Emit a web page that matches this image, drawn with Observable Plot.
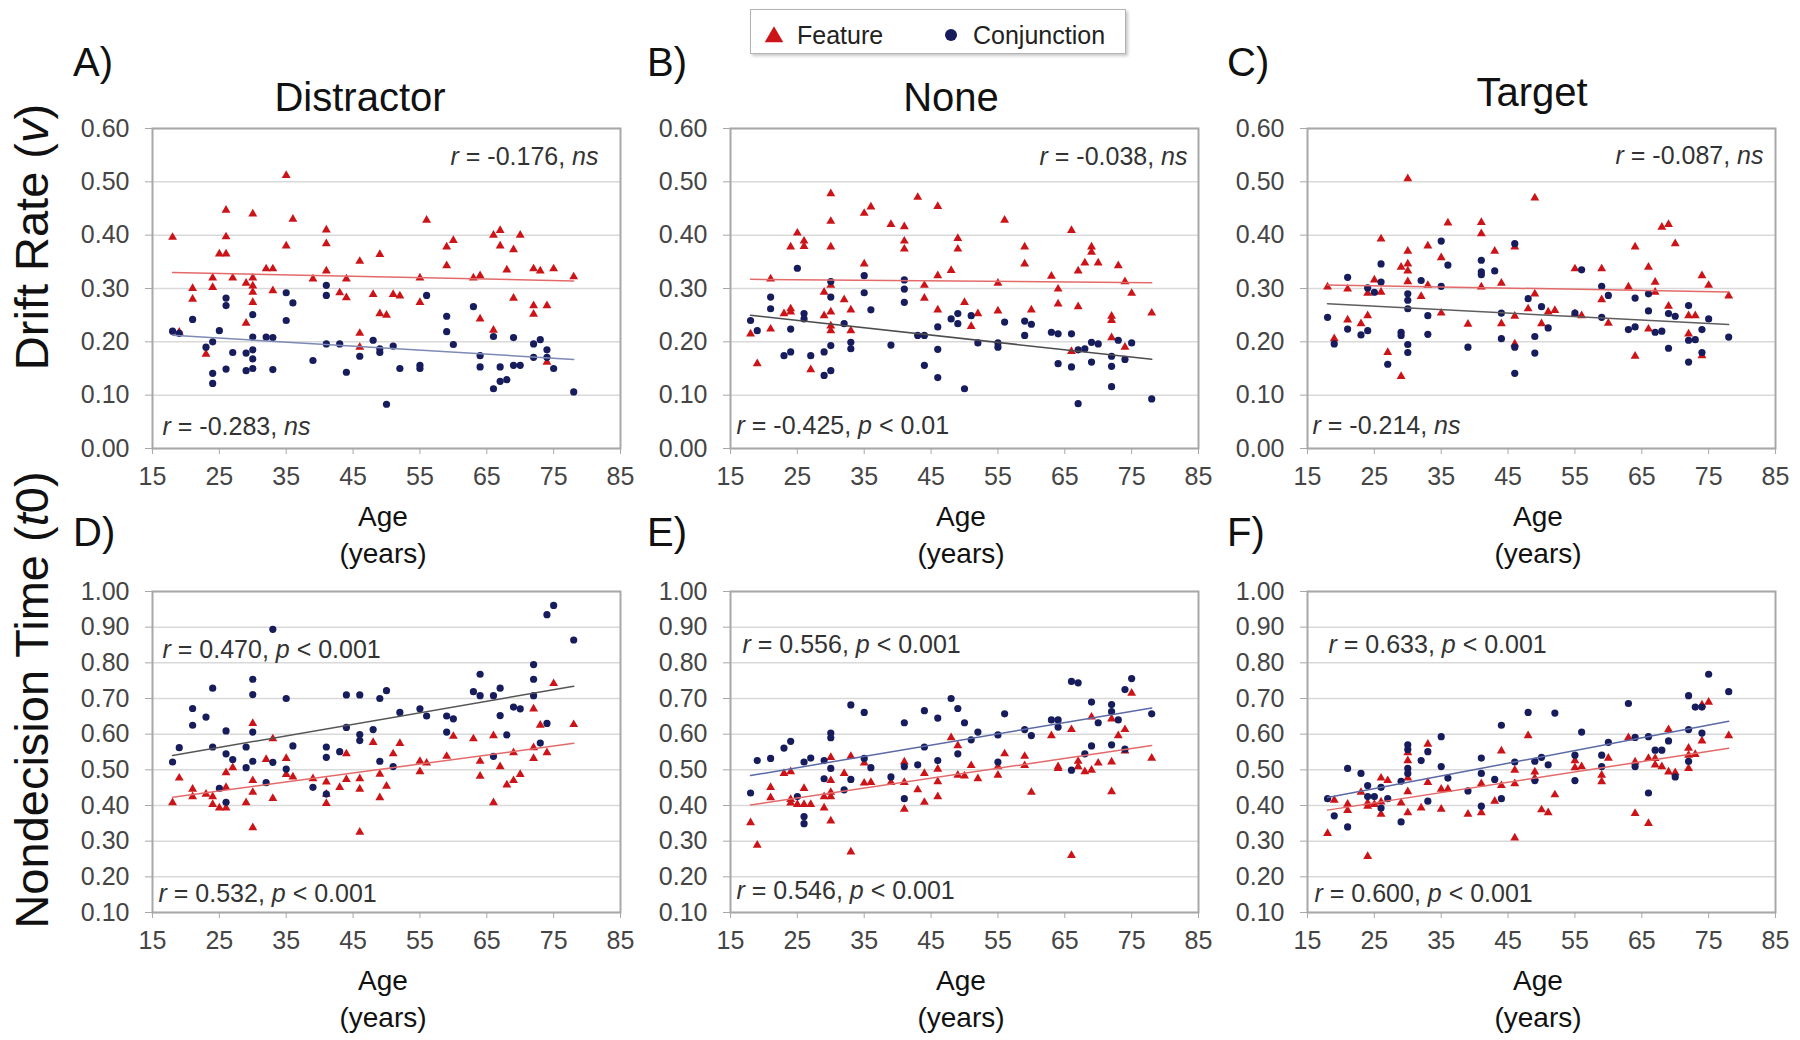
<!DOCTYPE html>
<html><head><meta charset="utf-8">
<script src="https://cdn.jsdelivr.net/npm/d3@7"></script>
<script src="https://cdn.jsdelivr.net/npm/@observablehq/plot@0.6"></script>
<style>
html,body{margin:0;padding:0;background:#fff;}
#fig{position:relative;width:1800px;height:1040px;background:#fff;font-family:"Liberation Sans",Arial,Helvetica,sans-serif;color:#111;overflow:hidden;}
.c{position:absolute;transform:translate(-50%,-50%);line-height:1;white-space:nowrap;}
.l{position:absolute;transform:translateY(-50%);line-height:1;white-space:nowrap;}
.rot{position:absolute;transform:translate(-50%,-50%) rotate(-90deg);line-height:1;white-space:nowrap;}
svg.panel{position:absolute;overflow:visible;}
</style></head><body><div id="fig"></div>
<script>
// ---------- DATA (age in years, parameter value) ----------
const ageTicks = [15, 25, 35, 45, 55, 65, 75, 85];
const driftTicks = [0, 0.1, 0.2, 0.3, 0.4, 0.5, 0.6];
const ndtTicks = [0.1, 0.2, 0.3, 0.4, 0.5, 0.6, 0.7, 0.8, 0.9, 1.0];
const conditions = ["Distractor", "None", "Target"];
const letters = ["A)", "B)", "C)", "D)", "E)", "F)"];
const seriesNames = ["Feature", "Conjunction"];

const driftDistractorFeature = [[18,.396],[19,.218],[21,.300],[21,.280],[23,.177],[24,.320],[24,.302],[25,.365],[26,.365],[26,.447],[26,.397],[27,.320],[29,.235],[29,.310],[30,.440],[30,.320],[30,.305],[30,.293],[30,.274],[32,.337],[33,.337],[33,.296],[35,.512],[35,.380],[36,.430],[39,.318],[41,.410],[41,.384],[41,.333],[43,.292],[44,.318],[44,.283],[46,.351],[46,.216],[46,.190],[48,.289],[49,.364],[49,.253],[50,.250],[51,.289],[52,.286],[55,.320],[55,.274],[56,.428],[59,.378],[59,.343],[60,.390],[63,.320],[64,.324],[64,.243],[66,.400],[66,.222],[67,.409],[67,.380],[68,.335],[69,.373],[69,.282],[70,.400],[72,.337],[72,.268],[72,.252],[73,.333],[74,.268],[74,.162],[75,.337],[78,.322]];
const driftDistractorConjunction = [[18,.220],[19,.216],[21,.242],[23,.190],[24,.200],[24,.141],[24,.122],[25,.221],[26,.282],[26,.268],[26,.149],[27,.180],[29,.179],[29,.146],[30,.251],[30,.209],[30,.185],[30,.168],[30,.150],[32,.209],[33,.208],[33,.148],[35,.292],[35,.240],[36,.273],[39,.165],[41,.306],[41,.287],[41,.196],[43,.196],[44,.143],[46,.173],[48,.203],[49,.187],[49,.180],[50,.083],[51,.192],[52,.150],[55,.156],[55,.150],[56,.287],[59,.248],[59,.219],[60,.195],[63,.266],[64,.174],[64,.153],[66,.210],[66,.112],[67,.153],[67,.126],[68,.129],[69,.208],[69,.156],[70,.156],[72,.196],[72,.171],[73,.204],[74,.185],[74,.171],[75,.150],[78,.106]];

const driftNoneFeature = [[18,.215],[19,.159],[21,.318],[21,.224],[23,.253],[24,.256],[24,.378],[24,.262],[25,.404],[26,.389],[26,.379],[27,.148],[29,.293],[29,.249],[30,.478],[30,.426],[30,.378],[30,.306],[30,.256],[30,.230],[30,.221],[32,.279],[33,.260],[33,.221],[35,.346],[35,.441],[36,.453],[39,.420],[41,.416],[41,.389],[41,.374],[43,.471],[44,.306],[44,.282],[46,.454],[46,.324],[46,.260],[48,.334],[49,.394],[49,.374],[50,.274],[51,.229],[52,.253],[55,.310],[55,.258],[56,.428],[59,.378],[59,.346],[60,.260],[63,.323],[64,.299],[64,.271],[66,.409],[66,.182],[67,.333],[67,.266],[68,.348],[69,.378],[69,.368],[70,.348],[72,.248],[72,.240],[72,.208],[73,.343],[74,.313],[74,.190],[75,.291],[78,.254]];
const driftNoneConjunction = [[18,.240],[19,.221],[21,.284],[21,.262],[23,.174],[24,.181],[24,.224],[25,.338],[26,.253],[26,.243],[27,.174],[29,.181],[29,.137],[30,.146],[30,.313],[30,.284],[30,.193],[32,.234],[33,.199],[33,.187],[35,.324],[35,.292],[36,.260],[39,.194],[41,.316],[41,.299],[41,.274],[43,.212],[44,.212],[44,.156],[46,.228],[46,.186],[46,.133],[48,.243],[49,.253],[49,.234],[50,.112],[51,.249],[52,.198],[55,.198],[55,.190],[56,.237],[59,.239],[59,.212],[60,.233],[63,.218],[64,.215],[64,.159],[66,.215],[66,.153],[67,.084],[67,.185],[68,.187],[69,.199],[69,.162],[70,.196],[72,.173],[72,.154],[72,.116],[73,.203],[74,.167],[75,.198],[78,.093]];

const driftTargetFeature = [[18,.303],[19,.206],[21,.299],[21,.241],[23,.234],[24,.249],[24,.291],[25,.316],[26,.393],[26,.293],[27,.180],[29,.135],[29,.340],[30,.506],[30,.370],[30,.346],[30,.333],[30,.313],[32,.285],[33,.380],[33,.306],[35,.358],[35,.254],[36,.423],[39,.233],[41,.424],[41,.403],[41,.303],[43,.370],[44,.310],[44,.234],[46,.378],[46,.248],[46,.196],[48,.262],[49,.470],[49,.290],[50,.234],[51,.256],[52,.259],[55,.337],[55,.253],[56,.249],[59,.337],[59,.279],[60,.235],[63,.303],[64,.378],[64,.173],[66,.340],[66,.224],[67,.312],[67,.293],[68,.415],[69,.420],[69,.267],[70,.384],[72,.249],[72,.215],[73,.249],[74,.324],[74,.174],[75,.306],[78,.286]];
const driftTargetConjunction = [[18,.246],[19,.196],[21,.321],[21,.224],[23,.213],[24,.221],[24,.301],[25,.293],[26,.346],[26,.312],[27,.158],[29,.218],[29,.212],[30,.290],[30,.278],[30,.262],[30,.195],[30,.180],[32,.315],[33,.249],[33,.214],[35,.389],[35,.304],[36,.344],[39,.190],[41,.353],[41,.331],[41,.326],[43,.333],[44,.254],[44,.206],[46,.384],[46,.190],[46,.141],[48,.281],[49,.210],[49,.179],[50,.266],[51,.226],[55,.254],[56,.335],[59,.304],[59,.246],[60,.287],[63,.223],[64,.228],[64,.282],[66,.290],[66,.258],[67,.218],[68,.220],[69,.253],[69,.188],[70,.248],[72,.268],[72,.203],[72,.162],[73,.204],[74,.223],[74,.180],[75,.243],[78,.209]];

const ndtDistractorFeature = [[18,.408],[19,.477],[21,.446],[21,.425],[23,.432],[24,.425],[24,.403],[25,.393],[26,.393],[26,.451],[26,.492],[27,.506],[29,.408],[30,.630],[30,.470],[30,.437],[30,.338],[32,.529],[33,.587],[33,.420],[35,.532],[35,.487],[36,.480],[39,.475],[41,.466],[41,.406],[41,.432],[43,.451],[44,.545],[44,.473],[46,.475],[46,.446],[46,.325],[48,.577],[49,.488],[49,.422],[50,.454],[51,.545],[52,.574],[55,.524],[55,.495],[56,.519],[59,.538],[60,.594],[63,.587],[64,.524],[64,.482],[66,.596],[66,.408],[67,.509],[68,.458],[69,.548],[69,.470],[70,.487],[72,.671],[72,.562],[72,.532],[73,.625],[74,.548],[75,.742],[78,.627]];
const ndtDistractorConjunction = [[18,.522],[19,.562],[21,.672],[21,.625],[23,.648],[24,.729],[24,.564],[25,.448],[26,.609],[26,.545],[26,.409],[27,.529],[29,.564],[29,.506],[30,.754],[30,.711],[30,.606],[30,.524],[32,.464],[33,.894],[33,.521],[35,.700],[35,.502],[36,.567],[39,.451],[41,.564],[41,.535],[41,.432],[43,.551],[44,.710],[44,.619],[46,.710],[46,.599],[46,.582],[48,.613],[49,.700],[49,.524],[50,.722],[51,.509],[52,.661],[55,.671],[56,.651],[59,.651],[59,.606],[60,.643],[63,.719],[64,.768],[64,.708],[66,.708],[66,.538],[67,.729],[67,.652],[68,.598],[69,.676],[70,.671],[72,.795],[72,.754],[72,.708],[73,.575],[74,.935],[75,.961],[74,.630],[78,.864]];

const ndtNoneFeature = [[18,.352],[19,.289],[21,.451],[21,.422],[23,.490],[24,.495],[24,.417],[24,.407],[25,.403],[26,.448],[26,.403],[27,.403],[29,.393],[29,.425],[30,.535],[30,.470],[30,.437],[30,.425],[30,.357],[32,.490],[33,.538],[33,.270],[35,.519],[35,.463],[36,.465],[39,.465],[41,.522],[41,.465],[41,.390],[43,.444],[44,.490],[44,.409],[46,.502],[46,.467],[46,.425],[48,.590],[49,.568],[49,.485],[50,.483],[51,.512],[52,.475],[55,.509],[55,.485],[56,.545],[59,.538],[59,.512],[60,.437],[63,.596],[64,.509],[64,.504],[66,.613],[66,.260],[67,.524],[67,.509],[68,.495],[69,.648],[69,.499],[70,.519],[72,.643],[72,.522],[72,.439],[73,.596],[74,.613],[74,.553],[75,.715],[78,.533]];
const ndtNoneConjunction = [[18,.435],[19,.526],[21,.532],[23,.561],[24,.580],[25,.425],[26,.522],[26,.369],[26,.349],[27,.533],[29,.526],[29,.475],[30,.603],[30,.590],[30,.504],[32,.444],[33,.682],[33,.473],[35,.661],[35,.532],[36,.506],[39,.480],[41,.632],[41,.509],[41,.419],[43,.514],[44,.666],[44,.564],[46,.645],[46,.526],[48,.700],[49,.672],[49,.545],[50,.632],[51,.584],[52,.606],[55,.598],[55,.522],[56,.657],[59,.613],[60,.596],[63,.640],[64,.640],[64,.620],[66,.748],[67,.744],[66,.499],[68,.545],[69,.690],[69,.567],[70,.632],[72,.683],[72,.663],[72,.570],[73,.640],[74,.725],[74,.558],[75,.756],[78,.657]];

const ndtTargetFeature = [[18,.322],[19,.415],[21,.404],[21,.386],[23,.437],[24,.257],[24,.407],[24,.398],[25,.403],[26,.477],[26,.376],[26,.410],[27,.470],[29,.407],[30,.548],[30,.526],[30,.477],[30,.439],[30,.380],[32,.393],[33,.572],[33,.465],[35,.446],[35,.390],[36,.446],[39,.376],[41,.461],[41,.380],[43,.412],[44,.553],[44,.456],[46,.499],[46,.461],[46,.309],[48,.596],[49,.494],[49,.477],[50,.388],[51,.380],[52,.430],[55,.526],[55,.506],[56,.509],[59,.485],[59,.467],[60,.533],[63,.590],[64,.522],[64,.378],[66,.532],[66,.350],[67,.532],[67,.514],[68,.509],[69,.613],[69,.494],[70,.492],[72,.561],[72,.541],[72,.504],[73,.543],[74,.682],[74,.581],[75,.690],[78,.596]];
const ndtTargetConjunction = [[18,.419],[19,.371],[21,.504],[21,.340],[23,.490],[24,.456],[24,.425],[25,.425],[26,.451],[26,.393],[27,.419],[29,.468],[29,.354],[30,.570],[30,.557],[30,.504],[30,.490],[32,.526],[33,.551],[33,.412],[35,.593],[35,.509],[36,.477],[39,.441],[41,.533],[41,.490],[41,.398],[43,.473],[44,.625],[44,.419],[46,.522],[48,.661],[49,.524],[49,.470],[50,.535],[51,.514],[52,.659],[55,.541],[55,.470],[56,.606],[59,.541],[59,.509],[60,.577],[63,.686],[64,.591],[64,.509],[66,.593],[66,.435],[67,.555],[68,.555],[69,.581],[70,.480],[72,.708],[72,.613],[72,.524],[73,.676],[74,.676],[74,.603],[75,.768],[78,.719]];

const statsTop = ["r = -0.176, ns", "r = -0.038, ns", "r = -0.087, ns", "r = 0.470, p < 0.001", "r = 0.556, p < 0.001", "r = 0.633, p < 0.001"];
const statsBottom = ["r = -0.283, ns", "r = -0.425, p < 0.01", "r = -0.214, ns", "r = 0.532, p < 0.001", "r = 0.546, p < 0.001", "r = 0.600, p < 0.001"];

// ---------- LAYOUT / STYLE ----------
const RED = "#cc1418", NAVY = "#161c5c";
const redLine = "#e46a6a";
const conjLine = ["#7d8ab5", "#4d4d4d", "#5e5e5e", "#555555", "#5b6aa6", "#5b6aa6"];
const colLeft = [152, 730, 1307], plotW = 468;
const rowTop = [128, 591], rowH = [320, 321];
const ML = 92, MR = 26, MT = 22, MB = 50;
const FONT = "'Liberation Sans', Arial, Helvetica, sans-serif";
// annotation anchors: [frameAnchor, dx, dy]
const topAnn = [["top-right",-22,28],["top-right",-11,28],["top-right",-12,27],["top-left",10,58],["top-left",12,53],["top-left",21,53]];
const botAnn = [["bottom-left",10,-22],["bottom-left",6,-23],["bottom-left",5,-23],["bottom-left",6,-19],["bottom-left",6,-22],["bottom-left",7,-19]];

const panels = [
  [driftDistractorFeature, driftDistractorConjunction],
  [driftNoneFeature, driftNoneConjunction],
  [driftTargetFeature, driftTargetConjunction],
  [ndtDistractorFeature, ndtDistractorConjunction],
  [ndtNoneFeature, ndtNoneConjunction],
  [ndtTargetFeature, ndtTargetConjunction]
];

const fig = document.getElementById("fig");
const X = d => d[0], Y = d => d[1];

function styleStats(svg) {
  svg.querySelectorAll("text").forEach(t => {
    const s = t.textContent;
    const m = s.match(/^r( = [^,]+, )(ns|p)(.*)$/);
    if (!m) return;
    t.textContent = "";
    const parts = [["r", true], [m[1], false], [m[2], true], [m[3], false]];
    for (const [txt, it] of parts) {
      if (!txt) continue;
      const ts = document.createElementNS("http://www.w3.org/2000/svg", "tspan");
      ts.textContent = txt;
      if (it) ts.setAttribute("font-style", "italic");
      t.appendChild(ts);
    }
  });
}

panels.forEach(([feat, conj], i) => {
  const row = Math.floor(i / 3), col = i % 3;
  const yTicks = row === 0 ? driftTicks : ndtTicks;
  const yDomain = row === 0 ? [0, 0.6] : [0.1, 1.0];
  const h = rowH[row];
  const [ta, tdx, tdy] = topAnn[i];
  const [ba, bdx, bdy] = botAnn[i];
  const svg = Plot.plot({
    width: plotW + ML + MR,
    height: h + MT + MB,
    marginLeft: ML, marginRight: MR, marginTop: MT, marginBottom: MB,
    style: {fontFamily: FONT, fontSize: "25px", background: "transparent", color: "#404040", overflow: "visible"},
    x: {domain: [15, 85]},
    y: {domain: yDomain},
    marks: [
      Plot.gridY(yTicks, {stroke: "#d9d9d9", strokeOpacity: 1, strokeWidth: 1.5}),
      Plot.axisY({ticks: yTicks, tickFormat: d3.format(".2f"), tickSize: 7, tickPadding: 16, stroke: "#a8a8a8", fill: "#454545", label: null}),
      Plot.axisX({ticks: ageTicks, tickFormat: d => String(d), tickSize: 6, tickPadding: 13, stroke: "#a8a8a8", fill: "#454545", label: null}),
      Plot.frame({stroke: "#a8a8a8", strokeWidth: 2}),
      Plot.dot(feat, {x: X, y: Y, symbol: "triangle", r: 3.3, fill: RED}),
      Plot.dot(conj, {x: X, y: Y, symbol: "circle", r: 3.6, fill: NAVY}),
      Plot.linearRegressionY(feat, {x: X, y: Y, stroke: redLine, strokeWidth: 1.5, ci: 0}),
      Plot.linearRegressionY(conj, {x: X, y: Y, stroke: conjLine[i], strokeWidth: 1.5, ci: 0}),
      Plot.text([statsTop[i]], {text: d => d, frameAnchor: ta, dx: tdx, dy: tdy, lineAnchor: "middle", textAnchor: ta.endsWith("right") ? "end" : "start", fontSize: 25, fill: "#333"}),
      Plot.text([statsBottom[i]], {text: d => d, frameAnchor: ba, dx: bdx, dy: bdy, lineAnchor: "middle", textAnchor: "start", fontSize: 25, fill: "#333"})
    ]
  });
  svg.classList.add("panel");
  svg.style.left = (colLeft[col] - ML) + "px";
  svg.style.top = (rowTop[row] - MT) + "px";
  styleStats(svg);
  fig.appendChild(svg);

  // x-axis title
  const cx = colLeft[col] + plotW / 2 - 3;
  const ageY = row === 0 ? 517 : 981;
  addDiv("c", "Age", cx, ageY, 28);
  addDiv("c", "(years)", cx, ageY + 37, 28);
  // panel letter
  addDiv("l", letters[i], [73, 647, 1227][col], row === 0 ? 62 : 532, 40);
});

// condition titles
[[360, 97], [951, 97], [1532, 92]].forEach(([x, y], j) => addDiv("c", conditions[j], x, y, 40));

// y-axis titles
addDiv("rot", "Drift Rate (<i>v</i>)", 31, 237, 47, true);
addDiv("rot", "Nondecision Time (<i>t</i>0)", 31, 700, 47, true);

// legend
const leg = document.createElement("div");
leg.style.cssText = "position:absolute;left:750px;top:9px;width:374px;height:43px;border:1.5px solid #b3b3b3;box-shadow:2px 2px 3px rgba(0,0,0,0.22);background:#fff;";
fig.appendChild(leg);
const legSvg = d3.create("svg").attr("width", 374).attr("height", 43).style("position", "absolute").style("left", "0").style("top", "0");
legSvg.append("path").attr("d", d3.symbol(d3.symbolTriangle, 150)()).attr("transform", "translate(23,27)").attr("fill", RED);
legSvg.append("circle").attr("cx", 200).attr("cy", 25).attr("r", 6).attr("fill", NAVY);
leg.appendChild(legSvg.node());
const lt1 = document.createElement("div"); lt1.className = "l"; lt1.textContent = seriesNames[0];
lt1.style.cssText += "left:46px;top:25px;font-size:25px;color:#222;"; leg.appendChild(lt1);
const lt2 = document.createElement("div"); lt2.className = "l"; lt2.textContent = seriesNames[1];
lt2.style.cssText += "left:222px;top:25px;font-size:25px;color:#222;"; leg.appendChild(lt2);

function addDiv(cls, txt, x, y, size, html) {
  const d = document.createElement("div");
  d.className = cls;
  if (html) d.innerHTML = txt; else d.textContent = txt;
  d.style.left = x + "px";
  d.style.top = y + "px";
  d.style.fontSize = size + "px";
  fig.appendChild(d);
  return d;
}
</script></body></html>
